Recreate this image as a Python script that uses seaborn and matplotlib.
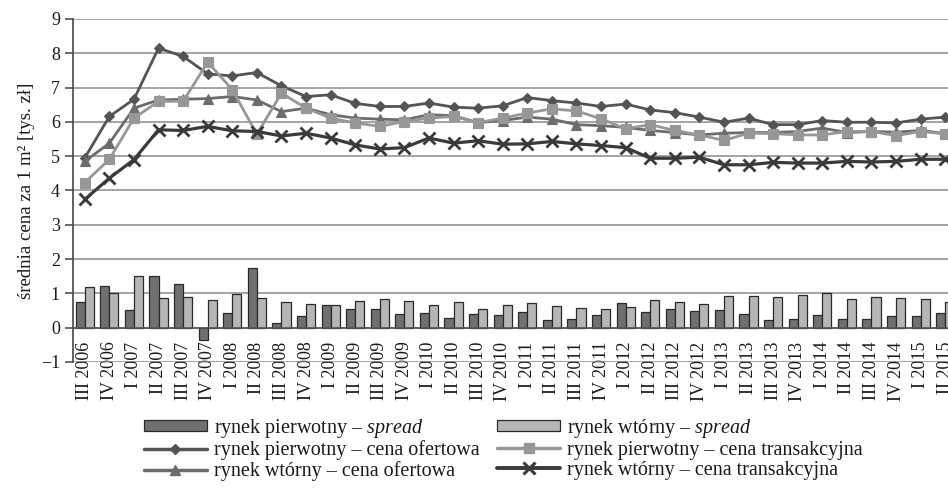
import numpy as np
import pandas as pd
import matplotlib
matplotlib.use("Agg")
import matplotlib.pyplot as plt
from matplotlib.lines import Line2D
from matplotlib.patches import Patch
import seaborn as sns

quarters = ["III 2006", "IV 2006",
            "I 2007", "II 2007", "III 2007", "IV 2007",
            "I 2008", "II 2008", "III 2008", "IV 2008",
            "I 2009", "II 2009", "III 2009", "IV 2009",
            "I 2010", "II 2010", "III 2010", "IV 2010",
            "I 2011", "II 2011", "III 2011", "IV 2011",
            "I 2012", "II 2012", "III 2012", "IV 2012",
            "I 2013", "II 2013", "III 2013", "IV 2013",
            "I 2014", "II 2014", "III 2014", "IV 2014",
            "I 2015", "II 2015"]

spread_pierwotny = [0.75, 1.23, 0.52, 1.51, 1.28, -0.35, 0.44, 1.75, 0.15, 0.33,
                    0.67, 0.55, 0.55, 0.41, 0.44, 0.29, 0.41, 0.38, 0.46, 0.23,
                    0.26, 0.38, 0.72, 0.46, 0.55, 0.49, 0.52, 0.41, 0.23, 0.26,
                    0.38, 0.26, 0.26, 0.35, 0.35, 0.44]
spread_wtorny = [1.18, 1.01, 1.50, 0.87, 0.89, 0.82, 0.98, 0.87, 0.75, 0.70,
                 0.67, 0.78, 0.83, 0.78, 0.66, 0.75, 0.55, 0.66, 0.72, 0.63,
                 0.58, 0.55, 0.60, 0.81, 0.75, 0.69, 0.92, 0.92, 0.89, 0.95,
                 1.01, 0.83, 0.89, 0.86, 0.83, 0.75]

pierwotny_ofertowa = [4.95, 6.16, 6.66, 8.15, 7.91, 7.40, 7.34, 7.44, 7.05, 6.74,
                      6.79, 6.54, 6.45, 6.45, 6.55, 6.43, 6.40, 6.47, 6.71, 6.62,
                      6.55, 6.45, 6.52, 6.35, 6.27, 6.14, 5.99, 6.11, 5.92, 5.92,
                      6.04, 5.99, 5.99, 5.97, 6.08, 6.14]
pierwotny_transakcyjna = [4.23, 4.91, 6.11, 6.60, 6.60, 7.74, 6.94, 5.64, 6.84, 6.40,
                          6.11, 5.97, 5.87, 6.01, 6.11, 6.16, 5.98, 6.11, 6.26, 6.38,
                          6.32, 6.09, 5.80, 5.92, 5.75, 5.62, 5.46, 5.67, 5.66, 5.62,
                          5.62, 5.72, 5.72, 5.60, 5.72, 5.65]
wtorny_ofertowa = [4.85, 5.38, 6.40, 6.64, 6.66, 6.68, 6.74, 6.64, 6.30, 6.40,
                   6.21, 6.11, 6.08, 6.06, 6.21, 6.18, 5.98, 6.04, 6.14, 6.08,
                   5.92, 5.89, 5.84, 5.75, 5.69, 5.62, 5.67, 5.69, 5.69, 5.72,
                   5.82, 5.69, 5.72, 5.70, 5.75, 5.66]
wtorny_transakcyjna = [3.74, 4.36, 4.90, 5.77, 5.75, 5.87, 5.74, 5.72, 5.59, 5.67,
                       5.53, 5.33, 5.21, 5.25, 5.53, 5.38, 5.45, 5.35, 5.36, 5.43,
                       5.36, 5.31, 5.25, 4.94, 4.94, 4.97, 4.75, 4.75, 4.82, 4.80,
                       4.80, 4.85, 4.83, 4.85, 4.91, 4.91]

lab_sp_p = "rynek pierwotny – $\\mathit{spread}$"
lab_sp_w = "rynek wtórny – $\\mathit{spread}$"
lab_po = "rynek pierwotny – cena ofertowa"
lab_pt = "rynek pierwotny – cena transakcyjna"
lab_wo = "rynek wtórny – cena ofertowa"
lab_wt = "rynek wtórny – cena transakcyjna"

sns.set_theme(style="white")
plt.rcParams["font.family"] = ["Liberation Serif", "DejaVu Serif"]
plt.rcParams["mathtext.fontset"] = "custom"
plt.rcParams["mathtext.it"] = "Liberation Serif:italic"
plt.rcParams["mathtext.rm"] = "Liberation Serif"
plt.rcParams["axes.unicode_minus"] = True

fig = plt.figure(figsize=(9.48, 4.96), dpi=100)
ax = fig.add_axes([72.5 / 948, 1 - 362 / 496, (957.5 - 72.5) / 948, (362 - 19) / 496])

c_bar_p = "#707070"
c_bar_w = "#b6b6b6"
c_po = "#545454"
c_pt = "#979797"
c_wo = "#6c6c6c"
c_wt = "#3a3a3a"

bars = pd.DataFrame({
    "kwartal": quarters * 2,
    "spread": spread_pierwotny + spread_wtorny,
    "rynek": ["pierwotny"] * len(quarters) + ["wtorny"] * len(quarters),
})
sns.barplot(data=bars, x="kwartal", y="spread", hue="rynek", order=quarters,
            palette=[c_bar_p, c_bar_w], width=0.74, gap=0.0,
            edgecolor="#2a2a2a", linewidth=0.9, legend=False, ax=ax,
            saturation=1, zorder=2)

xpos = np.arange(len(quarters))
line_specs = [
    (pierwotny_ofertowa, c_po, "D", 5.5, 2.0),
    (wtorny_ofertowa, c_wo, "^", 7.0, 2.0),
    (pierwotny_transakcyjna, c_pt, "s", 7.0, 2.0),
    (wtorny_transakcyjna, c_wt, "x", 8.0, 2.3),
]
for vals, col, mk, ms, lw in line_specs:
    sns.lineplot(x=xpos, y=vals, color=col, marker=mk, markersize=ms, lw=lw,
                 markeredgecolor=col, markeredgewidth=2.0 if mk == "x" else 0.8,
                 ax=ax, zorder=4)

ax.set_xlim(-0.5, len(quarters) - 0.5)
ax.set_ylim(-1, 9)
for s in ["top", "right"]:
    ax.spines[s].set_visible(False)
ax.spines["bottom"].set_position(("data", 0))
ax.spines["bottom"].set_color("#555555")
ax.spines["bottom"].set_linewidth(1.2)
ax.spines["left"].set_color("#444444")
ax.spines["left"].set_linewidth(1.2)

ax.set_yticks(range(-1, 10))
ax.set_xticks(xpos)
ax.set_xticklabels(quarters)
ax.tick_params(axis="x", length=0, pad=10, colors="#1a1a1a", labelrotation=90,
               labelsize=13)
ax.tick_params(axis="y", length=6, width=1.1, direction="out", color="#444444",
               labelsize=13, pad=3, labelcolor="#1a1a1a", left=True)
ax.set_axisbelow(True)
ax.yaxis.grid(True, color="#8c8c8c", lw=1.1)
ax.xaxis.grid(False)
ax.set_xlabel("")
ax.set_ylabel("średnia cena za 1 m² [tys. zł]", fontsize=13.5, color="#1a1a1a", labelpad=4)

handles = [
    Patch(facecolor=c_bar_p, edgecolor="#2a2a2a", linewidth=0.9),
    Line2D([], [], color=c_po, lw=2.5, marker="D", markersize=5.5, markeredgecolor=c_po),
    Line2D([], [], color=c_wo, lw=2.5, marker="^", markersize=7, markeredgecolor=c_wo),
    Patch(facecolor=c_bar_w, edgecolor="#2a2a2a", linewidth=0.9),
    Line2D([], [], color=c_pt, lw=2.5, marker="s", markersize=7, markeredgecolor=c_pt),
    Line2D([], [], color=c_wt, lw=2.8, marker="x", markersize=9, markeredgewidth=2.2,
           markeredgecolor=c_wt),
]
labels = [lab_sp_p, lab_po, lab_wo, lab_sp_w, lab_pt, lab_wt]
fig.legend(handles, labels, loc="center left", bbox_to_anchor=(134 / 948, 1 - 449 / 496),
           ncol=2, frameon=False, fontsize=14.5, borderpad=0, handlelength=3.1,
           handleheight=0.45, handletextpad=0.35, columnspacing=0.9, labelspacing=0.05,
           numpoints=1, labelcolor="#1a1a1a")

fig.savefig("out.png", dpi=100)
